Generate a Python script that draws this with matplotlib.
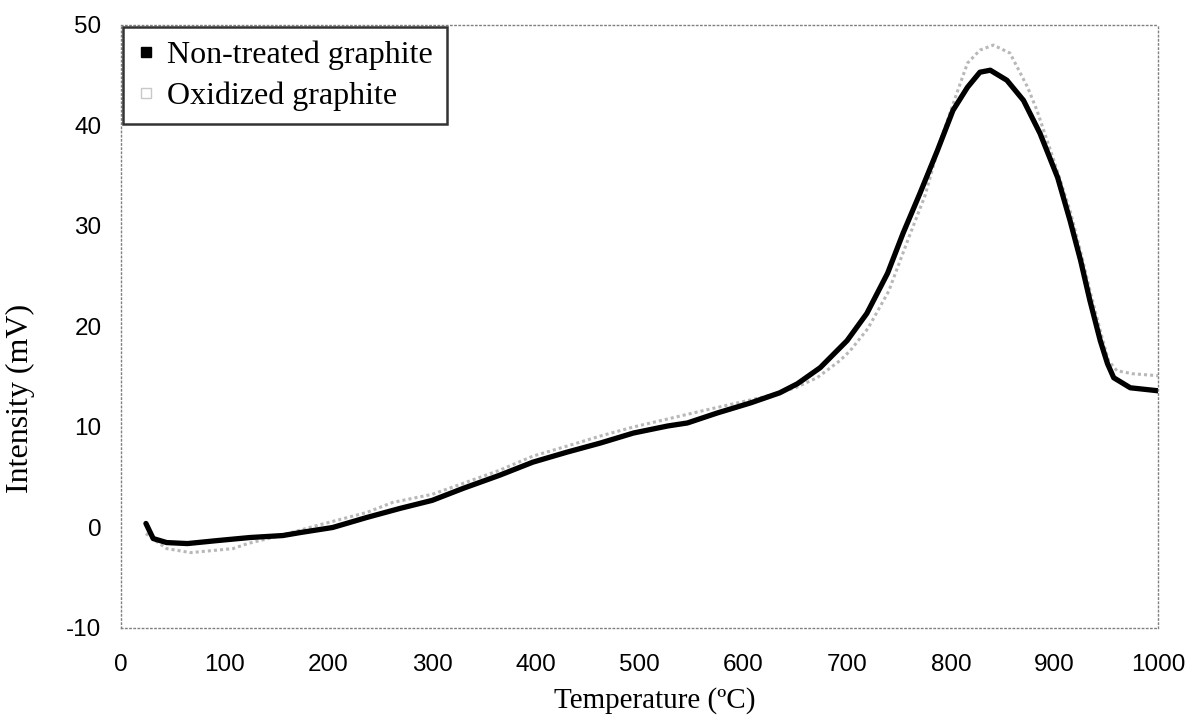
import matplotlib.pyplot as plt
from matplotlib.lines import Line2D

# Non-treated graphite
temp_raw = [24, 31, 44, 64, 93, 124, 156, 173, 204, 237, 269, 300, 330, 365,
            397, 430, 462, 494, 527, 546, 575, 607, 635, 652, 674, 700, 719,
            739, 754, 770, 787, 802, 816, 828, 838, 854, 870, 886, 903, 915,
            925, 934, 944, 951, 957, 973, 1000]
int_raw = [0.4, -1.1, -1.5, -1.6, -1.3, -1.0, -0.8, -0.5, 0.0, 1.0, 1.9, 2.7,
           3.9, 5.2, 6.5, 7.5, 8.4, 9.4, 10.1, 10.4, 11.4, 12.4, 13.4, 14.3,
           15.9, 18.6, 21.3, 25.3, 29.3, 33.2, 37.5, 41.5, 43.8, 45.3, 45.5,
           44.5, 42.5, 39.2, 34.8, 30.5, 26.6, 22.6, 18.6, 16.3, 14.9, 13.9,
           13.6]

# Oxidized graphite
temp_ox = [24, 33, 44, 67, 108, 122, 150, 189, 237, 262, 300, 330, 365, 397,
           430, 462, 494, 527, 560, 590, 620, 650, 671, 693, 703, 720, 740,
           760, 775, 790, 805, 816, 828, 841, 857, 874, 883, 900, 915, 925,
           935, 945, 952, 960, 975, 1000]
int_ox = [-0.6, -1.3, -2.1, -2.5, -2.1, -1.6, -0.9, 0.2, 1.5, 2.5, 3.3, 4.4,
          5.7, 7.1, 8.1, 9.1, 10.0, 10.8, 11.6, 12.3, 13.0, 13.9, 14.9, 16.6,
          17.6, 19.8, 23.5, 29.0, 33.0, 38.5, 43.0, 46.2, 47.5, 48.0, 47.2,
          43.8, 41.5, 36.3, 31.5, 27.5, 23.2, 19.2, 16.6, 15.6, 15.3, 15.1]

x_ticks = list(range(0, 1001, 100))
y_ticks = list(range(-10, 51, 10))


def main():
    plt.rcParams["axes.unicode_minus"] = False

    fig = plt.figure(figsize=(11.89, 7.24), dpi=100)
    ax = fig.add_axes([0.1018, 0.1326, 0.8724, 0.8329])

    # Gray dotted trace under the thick black one
    ax.plot(temp_ox, int_ox, color="#b8b8b8", lw=2.2, ls=(0, (1, 1)))
    ax.plot(temp_raw, int_raw, color="black", lw=3.8, solid_capstyle="round")

    ax.set_xlim(0, 1000)
    ax.set_ylim(-10, 50)
    ax.set_xticks(x_ticks)
    ax.set_yticks(y_ticks)
    ax.tick_params(length=0, labelsize=17.5)
    ax.tick_params(axis="x", pad=19)
    ax.tick_params(axis="y", pad=14)
    for lab in ax.get_xticklabels() + ax.get_yticklabels():
        lab.set_fontfamily("Liberation Sans")

    # Scanned Excel frame: faint dotted border
    for sp in ax.spines.values():
        sp.set_linestyle((0, (1, 2)))
        sp.set_color("#808080")
        sp.set_linewidth(1.0)

    ax.set_xlabel("Temperature (\u00baC)", family="Liberation Serif",
                  fontsize=21)
    ax.set_ylabel("Intensity (mV)", family="Liberation Serif",
                  fontsize=23)
    # Excel placed the axis titles a little off centre
    ax.xaxis.set_label_coords(0.515, -0.098)
    ax.yaxis.set_label_coords(-0.083, 0.38)

    # Legend with square markers
    handles = [
        Line2D([], [], ls="none", marker="s", ms=7.5, color="black"),
        Line2D([], [], ls="none", marker="s", ms=7.5, mfc="none",
               mec="#c8c8c8", mew=1.0),
    ]
    leg = ax.legend(handles, ["Non-treated graphite", "Oxidized graphite"],
                    loc="upper left", bbox_to_anchor=(0.002, 0.997),
                    prop={"family": "Liberation Serif", "size": 23},
                    frameon=True, fancybox=False, borderpad=0.43,
                    handletextpad=0.35, handlelength=0.6, labelspacing=0.35,
                    borderaxespad=0.0)
    leg.get_frame().set_edgecolor("black")
    leg.get_frame().set_linewidth(1.8)

    fig.savefig("out.png", dpi=100)


if __name__ == "__main__":
    main()
